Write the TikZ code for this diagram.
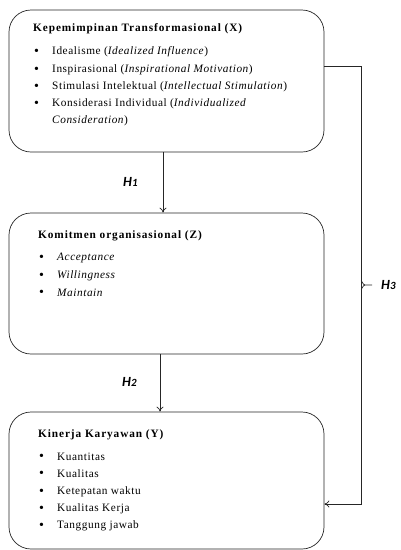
\documentclass[tikz,border=0pt]{standalone}
\usepackage{fontspec}
\setmainfont{Liberation Serif}[LetterSpace=5]
\newfontfamily\titlefont{Liberation Serif}[LetterSpace=8]
\newfontfamily\hfont{Carlito}
\usetikzlibrary{arrows.meta,calc}
\begin{document}
\begin{tikzpicture}[x=1pt,y=-1pt,
  box/.style={draw=black!85,line width=0.7pt,rounded corners=22pt,inner sep=0pt,minimum width=315pt},
  txt/.style={anchor=west,inner sep=0pt,font=\fontsize{11.3}{13}\selectfont},
  ttl/.style={txt,font=\titlefont\fontsize{11.3}{13}\selectfont\bfseries},
  bul/.style={txt,font=\fontsize{14}{14}\selectfont},
  hl/.style={anchor=west,inner sep=0pt,font=\hfont\fontsize{14}{15}\selectfont\bfseries\itshape},
  arr/.style={draw=black!85,line width=0.7pt,-{To[length=5pt,width=7pt]}},
  ln/.style={draw=black!85,line width=0.7pt}]
\useasboundingbox (0,0) rectangle (401,550);
% boxes
\node[box,minimum height=142pt] (X) at (166.5,81) {};
\node[box,minimum height=141pt] (Z) at (166.5,283.5) {};
\node[box,minimum height=137pt] (Y) at (166.5,480.5) {};
% box 1 text
\node[ttl] (xt) at (33,29) {Kepemimpinan Transformasional (X)};
\node[bul] (xb1) at (34,52) {\textbullet};
\node[txt] (x1) at (52,52) {Idealisme (\textit{Idealized  Influence})};
\node[bul] (xb2) at (34,70) {\textbullet};
\node[txt] (x2) at (52,70) {Inspirasional (\textit{Inspirational Motivation})};
\node[bul] (xb3) at (34,87) {\textbullet};
\node[txt] (x3) at (52,87) {Stimulasi Intelektual (\textit{Intellectual Stimulation})};
\node[bul] (xb4) at (34,104) {\textbullet};
\node[txt] (x4) at (52,104) {Konsiderasi Individual (\textit{Individualized}};
\node[txt] (x5) at (52,121) {\textit{Consideration})};
% box 2 text
\node[ttl] (zt) at (38,236) {Komitmen organisasional (Z)};
\node[bul] (zb1) at (39,258) {\textbullet};
\node[txt] (z1) at (57,258) {\textit{Acceptance}};
\node[bul] (zb2) at (39,276) {\textbullet};
\node[txt] (z2) at (57,276) {\textit{Willingness}};
\node[bul] (zb3) at (39,293) {\textbullet};
\node[txt] (z3) at (57,293) {\textit{Maintain}};
% box 3 text
\node[ttl] (yt) at (38,435) {Kinerja Karyawan (Y)};
\node[bul] (yb1) at (39,457) {\textbullet};
\node[txt] (y1t) at (57,457) {Kuantitas};
\node[bul] (yb2) at (39,474) {\textbullet};
\node[txt] (y2t) at (57,474) {Kualitas};
\node[bul] (yb3) at (39,492) {\textbullet};
\node[txt] (y3t) at (57,492) {Ketepatan waktu};
\node[bul] (yb4) at (39,509) {\textbullet};
\node[txt] (y4t) at (57,509) {Kualitas Kerja};
\node[bul] (yb5) at (39,526) {\textbullet};
\node[txt] (y5t) at (57,526) {Tanggung jawab};
% hypothesis labels
\node[hl] (H1) at (123,182) {H{\fontsize{11}{11}\selectfont 1}};
\node[hl] (H2) at (122,382) {H{\fontsize{11}{11}\selectfont 2}};
\node[hl] (H3) at (381,285) {H{\fontsize{11}{11}\selectfont 3}};
% connectors
\coordinate (c1) at (163,0);
\coordinate (c2) at (160,0);
\draw[arr] (X.south -| c1) -- (Z.north -| c1);
\draw[arr] (Z.south -| c2) -- (Y.north -| c2);
\coordinate (r) at (361,0);
\coordinate (ya) at (0,66);
\coordinate (yb) at (0,504);
\coordinate (ym) at (0,285);
\draw[arr] (X.east |- ya) -- (r |- ya) -- (r |- yb) -- (Y.east |- yb);
\coordinate (nub) at (372,285);
\draw[ln] ($(r |- ym)+(0,-4)$) to[out=90,in=180] ($(r |- ym)+(4,0)$) -- (nub);
\draw[ln] ($(r |- ym)+(0,4)$) to[out=-90,in=180] ($(r |- ym)+(4,0)$);
\end{tikzpicture}
\end{document}
